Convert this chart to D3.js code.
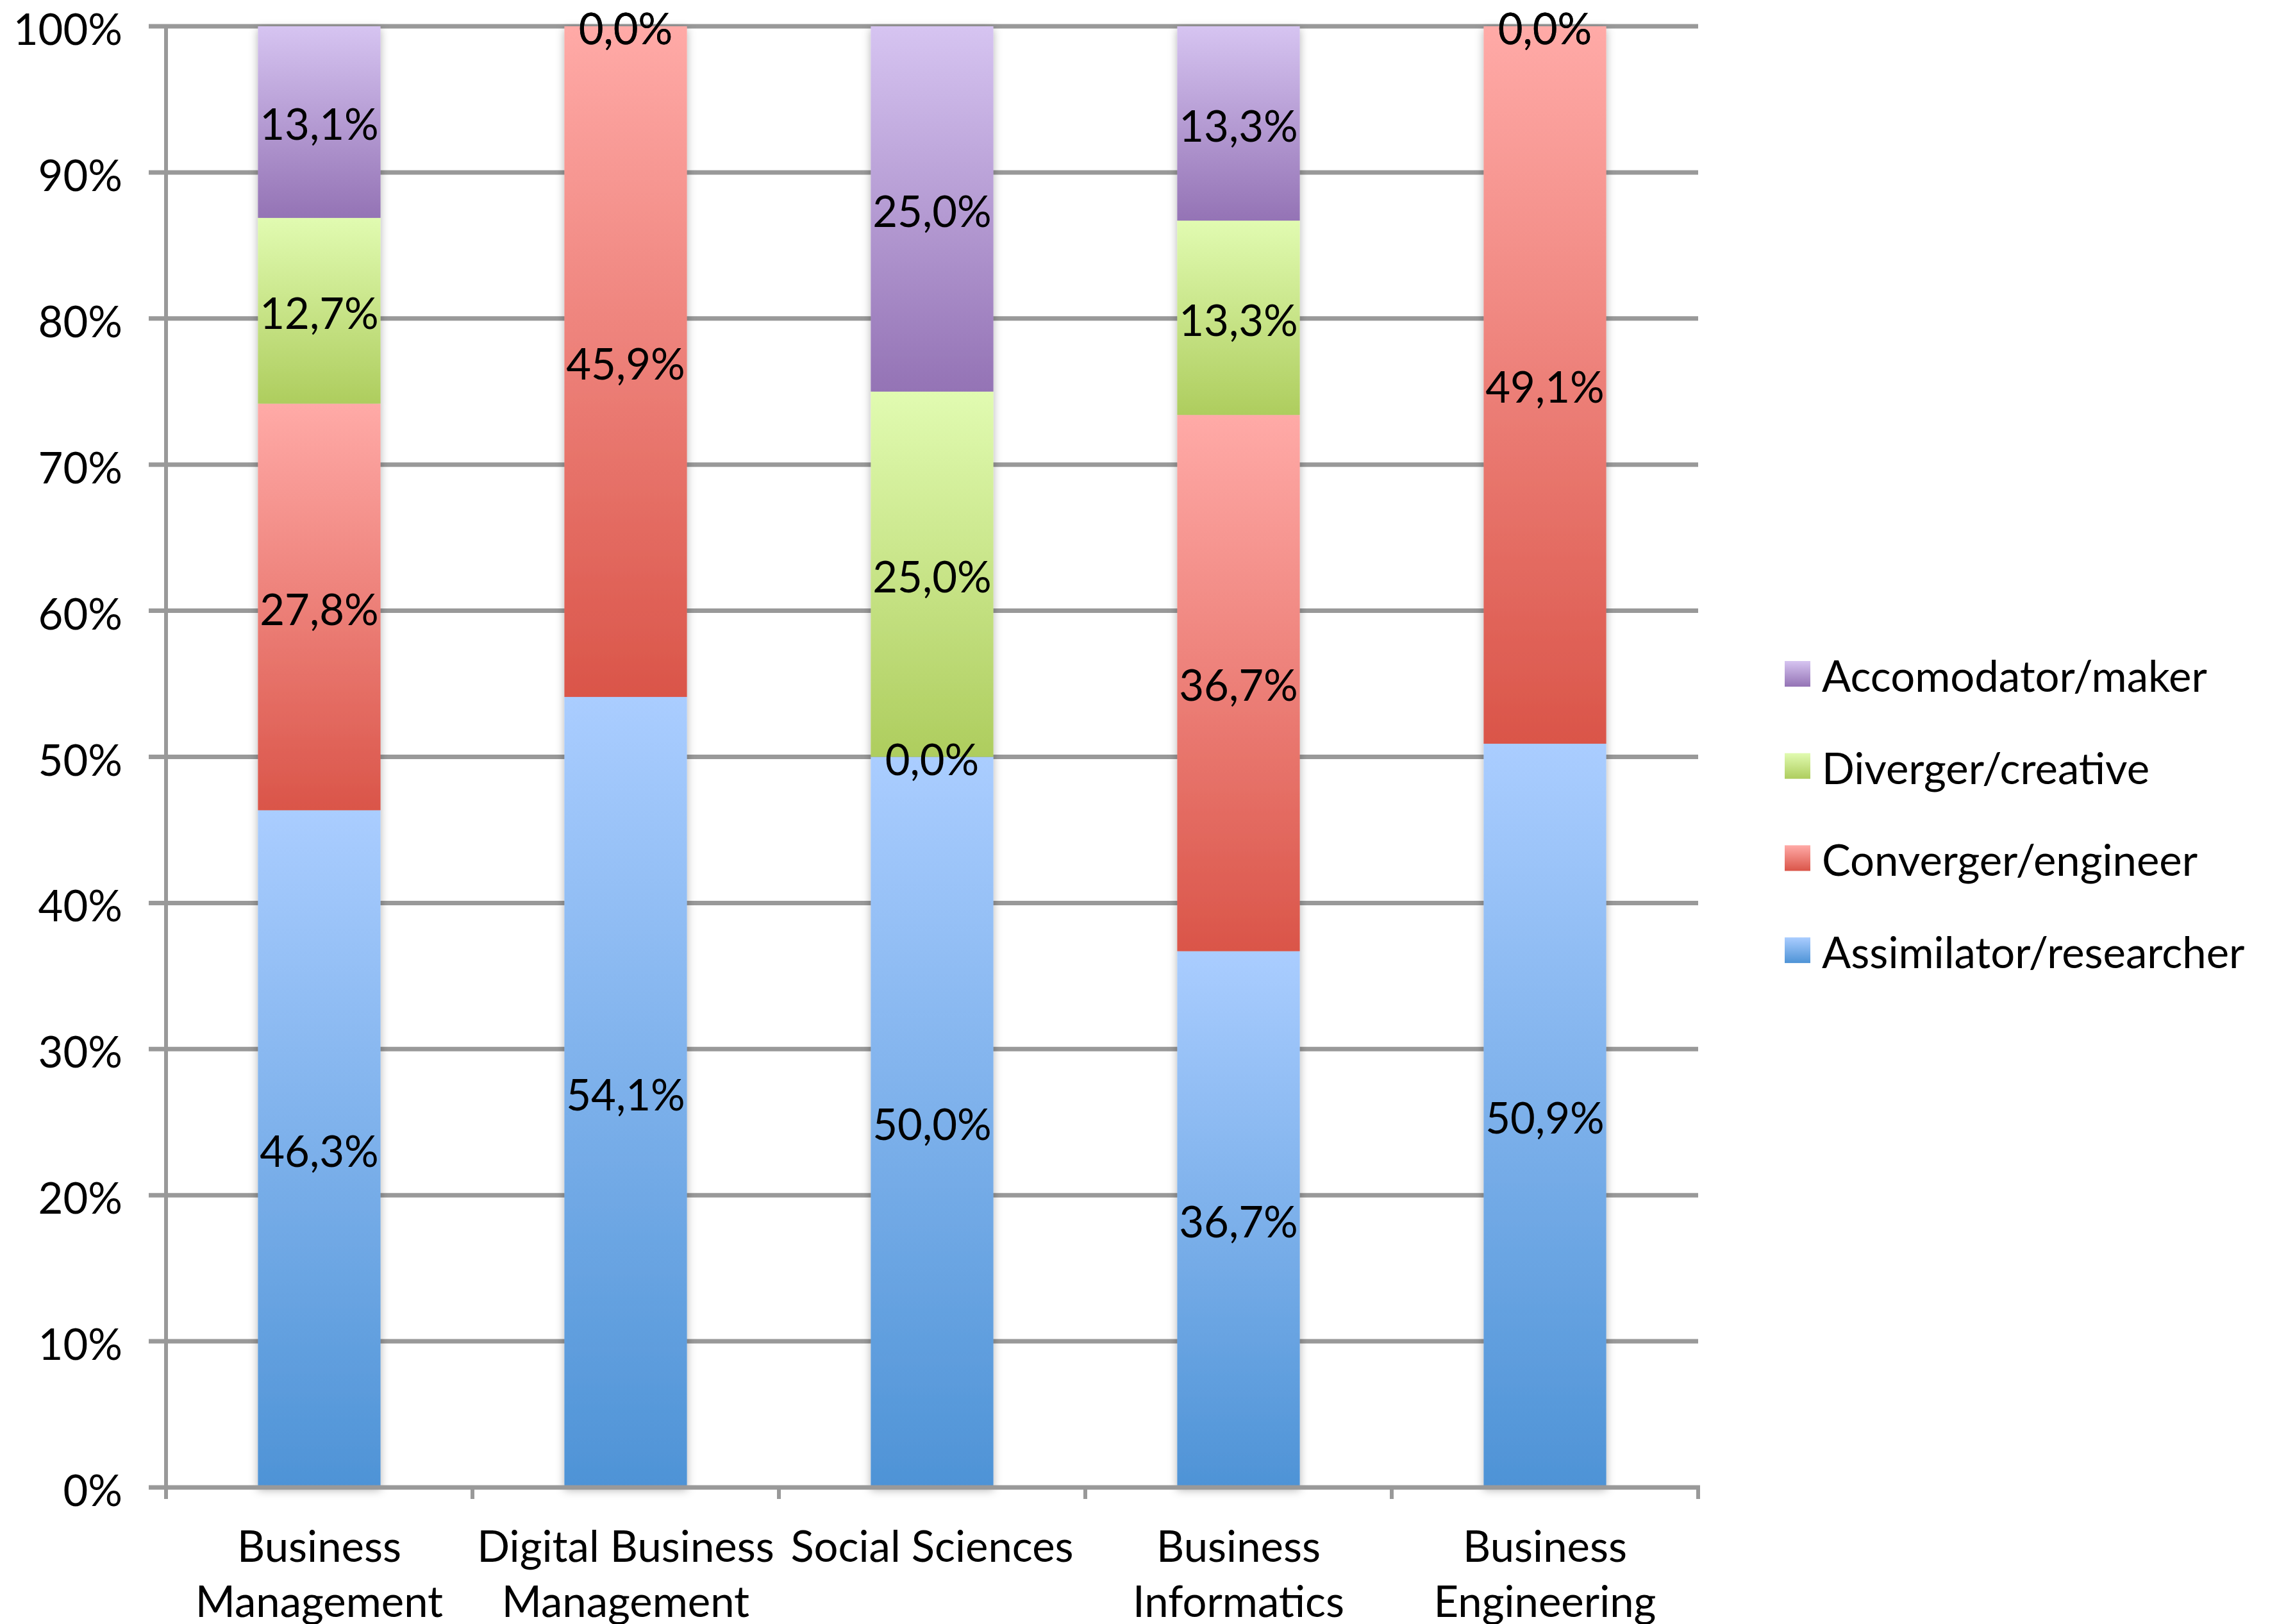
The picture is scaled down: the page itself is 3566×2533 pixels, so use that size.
<!DOCTYPE html>
<html>
<head>
<meta charset="utf-8">
<script src="https://cdn.jsdelivr.net/npm/d3@7"></script>
<style>
    html, body { margin: 0; padding: 0; background: #ffffff; }
    svg { display: block; }
</style>
</head>
<body>
<svg id="chart"></svg>
<script>
const categories = [
    "Business Management",
    "Digital Business Management",
    "Social Sciences",
    "Business Informatics",
    "Business Engineering"
]
const categoryLines = [
    ["Business", "Management"],
    ["Digital Business", "Management"],
    ["Social Sciences"],
    ["Business", "Informatics"],
    ["Business", "Engineering"]
]

// bottom to top of each bar
const seriesNames = [
    "Assimilator/researcher",
    "Converger/engineer",
    "Diverger/creative",
    "Accomodator/maker"
]
const assimilator = [46.3, 54.1, 50.0, 36.7, 50.9]
const converger = [27.8, 45.9, 0.0, 36.7, 49.1]
const diverger = [12.7, 0.0, 25.0, 13.3, 0.0]
const accomodator = [13.1, 0.0, 25.0, 13.3, 0.0]

const yTicks = [0, 0.1, 0.2, 0.3, 0.4, 0.5, 0.6, 0.7, 0.8, 0.9, 1]
const yTickLabels = ["0%", "10%", "20%", "30%", "40%", "50%", "60%", "70%", "80%", "90%", "100%"]

const gradTop = ["#aacdff", "#ffaaa7", "#e1fbb1", "#d6c4f1"]
const gradBottom = ["#4e93d6", "#da5549", "#aecd5e", "#9473b5"]

const width = 3566
const height = 2533
const plotLeft = 259
const plotRight = 2649
const plotTop = 41
const plotBottom = 2320
const gridStart = 232
const fontSize = 67
const fontFamily = "Lato, 'Open Sans', sans-serif"
const gridColor = "#999999"

const seriesValues = [assimilator, converger, diverger, accomodator]
const rows = categories.map((name, i) => {
    const row = { name }
    seriesNames.forEach((s, j) => { row[s] = seriesValues[j][i] })
    return row
})

const comma = d3.formatLocale({
    decimal: ",",
    thousands: ".",
    grouping: [3],
    currency: ["", "€"]
}).format(".1f")

const svg = d3.select("#chart")
    .attr("width", width)
    .attr("height", height)
    .attr("viewBox", [0, 0, width, height])
    .style("font-family", fontFamily)

const x = d3.scaleBand()
    .domain(categories)
    .range([plotLeft, plotRight])
    .paddingInner(0.6)
    .paddingOuter(0.3)

const y = d3.scaleLinear().domain([0, 1]).range([plotBottom, plotTop])

const defs = svg.append("defs")

seriesNames.forEach((s, i) => {
    const g = defs.append("linearGradient")
        .attr("id", `grad-${i}`)
        .attr("x1", 0).attr("y1", 0)
        .attr("x2", 0).attr("y2", 1)
    g.append("stop").attr("offset", "0%").attr("stop-color", gradTop[i])
    g.append("stop").attr("offset", "100%").attr("stop-color", gradBottom[i])
})

const shadow = defs.append("filter")
    .attr("id", "bar-shadow")
    .attr("x", "-30%").attr("y", "-5%")
    .attr("width", "160%").attr("height", "110%")
shadow.append("feDropShadow")
    .attr("dx", 0)
    .attr("dy", 4)
    .attr("stdDeviation", 7)
    .attr("flood-color", "#000")
    .attr("flood-opacity", 0.3)

// gridlines
svg.append("g")
    .attr("id", "grid")
    .selectAll("line")
    .data(yTicks.slice(1))
    .join("line")
    .attr("x1", gridStart)
    .attr("x2", plotRight)
    .attr("y1", (d) => y(d))
    .attr("y2", (d) => y(d))
    .attr("stroke", gridColor)
    .attr("stroke-width", 7)

// y axis line
svg.append("line")
    .attr("x1", plotLeft).attr("x2", plotLeft)
    .attr("y1", plotTop - 3).attr("y2", plotBottom + 18)
    .attr("stroke", gridColor)
    .attr("stroke-width", 6)

svg.append("g")
    .attr("id", "y-labels")
    .selectAll("text")
    .data(yTicks)
    .join("text")
    .attr("x", 191)
    .attr("y", (d) => y(d) + 29)
    .attr("text-anchor", "end")
    .attr("font-size", fontSize)
    .text((d, i) => yTickLabels[i])

// stacked bars
const stacked = d3.stack()
    .keys(seriesNames)
    .offset(d3.stackOffsetExpand)(rows)

const barGroups = svg.append("g")
    .attr("id", "bars")
    .selectAll("g")
    .data(categories)
    .join("g")
    .attr("filter", "url(#bar-shadow)")

barGroups.each(function (cat, ci) {
    d3.select(this)
        .selectAll("rect")
        .data(stacked.map((layer, si) => ({ seg: layer[ci], si })))
        .join("rect")
        .attr("x", x(cat))
        .attr("width", x.bandwidth())
        .attr("y", (d) => y(d.seg[1]))
        .attr("height", (d) => y(d.seg[0]) - y(d.seg[1]))
        .attr("fill", (d) => `url(#grad-${d.si})`)
})

// x axis line + ticks
svg.append("line")
    .attr("x1", gridStart).attr("x2", plotRight + 3)
    .attr("y1", y(0)).attr("y2", y(0))
    .attr("stroke", gridColor)
    .attr("stroke-width", 7)

const boundaries = categories.map((c) => x(c) - (x.step() - x.bandwidth()) / 2)
boundaries.push(plotRight)

svg.append("g")
    .attr("id", "x-ticks")
    .selectAll("line")
    .data(boundaries)
    .join("line")
    .attr("x1", (d) => d).attr("x2", (d) => d)
    .attr("y1", y(0)).attr("y2", y(0) + 18)
    .attr("stroke", gridColor)
    .attr("stroke-width", 6)

// data labels
const labels = []
stacked.forEach((layer, si) => {
    layer.forEach((seg, ci) => {
        labels.push({
            cat: categories[ci],
            mid: (seg[0] + seg[1]) / 2,
            value: seriesValues[si][ci]
        })
    })
})

svg.append("g")
    .attr("id", "data-labels")
    .selectAll("text")
    .data(labels)
    .join("text")
    .attr("x", (d) => x(d.cat) + x.bandwidth() / 2)
    .attr("y", (d) => y(d.mid) + 28)
    .attr("text-anchor", "middle")
    .attr("font-size", fontSize)
    .text((d) => comma(d.value) + "%")

// category labels
const catLabels = svg.append("g")
    .attr("id", "x-labels")
    .selectAll("text")
    .data(categories)
    .join("text")
    .attr("text-anchor", "middle")
    .attr("font-size", fontSize)
    .attr("x", (d) => x(d) + x.bandwidth() / 2)
    .attr("y", 2436)

catLabels.selectAll("tspan")
    .data((d, i) => categoryLines[i])
    .join("tspan")
    .attr("x", function () { return this.parentNode.getAttribute("x") })
    .attr("dy", (d, i) => (i === 0 ? 0 : 86))
    .text((d) => d)

// legend, top entry is the top series
const legendOrder = seriesNames.map((s, i) => i).reverse()
const legend = svg.append("g")
    .attr("id", "legend")
    .selectAll("g")
    .data(legendOrder)
    .join("g")
    .attr("transform", (d, k) => `translate(2784, ${1031 + k * 143.7})`)

legend.append("rect")
    .attr("width", 40)
    .attr("height", 40)
    .attr("fill", (d) => `url(#grad-${d})`)

legend.append("text")
    .attr("x", 58)
    .attr("y", 48)
    .attr("font-size", fontSize)
    .text((d) => seriesNames[d])
</script>
</body>
</html>
